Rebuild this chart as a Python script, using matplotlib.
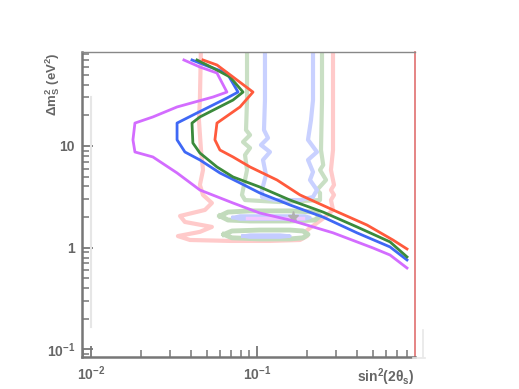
import matplotlib
matplotlib.use("Agg")
import matplotlib.pyplot as plt
from matplotlib.lines import Line2D
from matplotlib.ticker import LogLocator, NullFormatter

plt.rcParams['font.family'] = ['Liberation Sans', 'DejaVu Sans']
plt.rcParams['mathtext.fontset'] = 'custom'
plt.rcParams['mathtext.rm'] = 'Liberation Sans:bold'
plt.rcParams['mathtext.it'] = 'Liberation Sans:italic:bold'
plt.rcParams['mathtext.bf'] = 'Liberation Sans:bold'
plt.rcParams['mathtext.default'] = 'rm'

# ---- dark exclusion/allowed curves ----
purple_x = [0.0363, 0.0453, 0.0574, 0.0659, 0.0543, 0.0330, 0.0236, 0.0184, 0.0179, 0.0184,
            0.0236, 0.0330, 0.0453, 0.0717, 0.104, 0.158, 0.287, 0.500, 0.633, 0.801]
purple_y = [70.1, 59.8, 52.2, 33.9, 30.3, 24.2, 19.3, 16.8, 11.5, 8.73,
            7.80, 5.43, 3.69, 2.75, 2.19, 1.87, 1.40, 0.993, 0.847, 0.631]

blue_x = [0.0406, 0.0521, 0.0659, 0.0769, 0.0659, 0.0435, 0.0330, 0.0330, 0.0368, 0.0453,
          0.0598, 0.0790, 0.104, 0.158, 0.250, 0.400, 0.633, 0.801]
blue_y = [70.1, 59.8, 52.2, 33.9, 29.6, 21.1, 16.8, 11.5, 8.73, 7.29,
          5.43, 4.33, 3.45, 2.63, 2.00, 1.40, 1.017, 0.757]

green_x = [0.0435, 0.0543, 0.0688, 0.0824, 0.0717, 0.0453, 0.0406, 0.0411, 0.0453, 0.0574,
           0.0717, 0.104, 0.158, 0.250, 0.400, 0.633, 0.801]
green_y = [70.1, 58.5, 47.7, 33.9, 28.3, 19.3, 16.8, 10.7, 8.53, 6.22,
           4.96, 3.95, 2.94, 2.24, 1.60, 1.14, 0.811]

red_x = [0.0473, 0.0574, 0.0717, 0.0946, 0.0790, 0.0574, 0.0558, 0.0598, 0.0717, 0.0908,
         0.132, 0.1816, 0.287, 0.460, 0.659, 0.801]
red_y = [70.1, 62.6, 47.7, 33.9, 24.2, 16.8, 11.5, 9.13, 7.80, 6.22,
         4.63, 3.30, 2.35, 1.67, 1.19, 0.971]

# ---- faded contours ----
fred_x = [0.0460, 0.0453, 0.0447, 0.0460, 0.0473, 0.0453, 0.0473, 0.0535, 0.0486, 0.0344,
          0.0368, 0.0535, 0.0453, 0.0334, 0.0395, 0.0688, 0.1197, 0.1816, 0.2001, 0.1946,
          0.2086, 0.257, 0.287, 0.279, 0.291, 0.279, 0.291, 0.279, 0.287, 0.287, 0.287]
fred_y = [100, 28.3, 18.0, 9.13, 5.81, 4.14, 3.30, 2.75, 2.35, 2.05,
          1.79, 1.60, 1.43, 1.30, 1.19, 1.165, 1.165, 1.19, 1.30, 1.43,
          1.56, 2.00, 2.35, 2.94, 3.30, 3.69, 4.14, 5.81, 9.13, 28.3, 100]

fgreen_x = [0.0871, 0.0871, 0.0859, 0.0908, 0.0824, 0.0908, 0.0847, 0.0871, 0.0835, 0.0812,
            0.0847, 0.1376, 0.2397, 0.2397, 0.2297, 0.2606, 0.2397, 0.2505, 0.2430, 0.2464, 0.2464]
fgreen_y = [100, 28.3, 14.37, 12.83, 10.95, 9.56, 8.16, 5.81, 4.14, 3.30,
            2.94, 2.81, 2.94, 3.45, 3.69, 4.63, 5.81, 6.50, 9.13, 28.3, 100]

fblue_x = [0.1117, 0.1117, 0.1102, 0.1165, 0.1057, 0.1197, 0.1087, 0.1133, 0.1072, 0.1072,
           0.1283, 0.1816, 0.2175, 0.2297, 0.2086, 0.2175, 0.2029, 0.2297, 0.2029, 0.2115,
           0.2175, 0.2175]
fblue_y = [100, 28.3, 14.37, 11.99, 10.23, 8.73, 7.29, 5.19, 3.69, 3.15,
           2.94, 2.94, 3.15, 3.69, 4.63, 5.55, 7.29, 8.73, 11.5, 18.0,
           28.3, 100]

gloop1_x = [0.0598, 0.0669, 0.0908, 0.158, 0.2236, 0.2397, 0.2236, 0.158, 0.0908, 0.0669, 0.0598]
gloop1_y = [2.05, 2.24, 2.30, 2.30, 2.24, 2.05, 1.87, 1.83, 1.83, 1.87, 2.05]
gloop2_x = [0.0633, 0.0707, 0.104, 0.158, 0.1893, 0.2029, 0.1893, 0.158, 0.104, 0.0707, 0.0633]
gloop2_y = [1.349, 1.459, 1.49, 1.49, 1.459, 1.349, 1.25, 1.219, 1.219, 1.25, 1.349]
bloop1_x = [0.0717, 0.0790, 0.1197, 0.1946, 0.2086, 0.1946, 0.1197, 0.0790, 0.0717]
bloop1_y = [1.98, 2.05, 2.05, 2.05, 1.98, 1.91, 1.91, 1.91, 1.98]
bloop2_x = [0.0824, 0.0908, 0.1376, 0.158, 0.1376, 0.0908, 0.0824]
bloop2_y = [1.30, 1.33, 1.33, 1.30, 1.27, 1.27, 1.30]
mband_x = [0.0871, 0.1893]
mband_y = [1.96, 1.96]

star_x = [0.1648]
star_y = [2.0]

guide_x = [0.01, 0.01]
guide_y = [30.0, 0.166]

x_ticks = [0.01, 0.1]
x_ticklabels = ['10$^{-2}$', '10$^{-1}$']
y_ticks = [0.1, 1, 10]
y_ticklabels = ['10$^{-1}$', '1', '10']

fig = plt.figure(figsize=(5.19, 3.89), dpi=100)
ax = fig.add_axes([82/519, 32/389, 333/519, 305/389])
ax.set_xscale('log')
ax.set_yscale('log')
ax.set_xlim(0.00883, 0.895)
ax.set_ylim(0.0841, 84.0)

fl = dict(lw=3.0, solid_capstyle='round', solid_joinstyle='round')
ax.plot(guide_x, guide_y, color='#e6e6e6', lw=1.5)
ax.plot(fred_x, fred_y, color='#ffcaca', **fl)
ax.plot(fgreen_x, fgreen_y, color='#c9dfc4', **fl)
ax.plot(fblue_x, fblue_y, color='#c9d1ff', **fl)
ax.plot(gloop1_x, gloop1_y, color='#c2dbbc', lw=3.5)
ax.plot(gloop2_x, gloop2_y, color='#c2dbbc', lw=3.5)
ax.plot(bloop1_x, bloop1_y, color='#c4ccff', lw=2.5)
ax.plot(bloop2_x, bloop2_y, color='#c4ccff', lw=2.5)
ax.plot(mband_x, mband_y, color='#f2c8ff', lw=2.5)
ax.plot(star_x, star_y, marker='*', color='#b0b0b0', ms=8, ls='none')

dl = dict(lw=2.0, solid_joinstyle='round')
ax.plot(purple_x, purple_y, color='#d36cff', **dl)
ax.plot(blue_x, blue_y, color='#3f68f5', **dl)
ax.plot(green_x, green_y, color='#3b8a3b', **dl)
ax.plot(red_x, red_y, color='#ff5a3c', **dl)

for s in ['left', 'bottom']:
    ax.spines[s].set_color('#777777')
    ax.spines[s].set_linewidth(1.8)
ax.spines['top'].set_color('#888888')
ax.spines['top'].set_linewidth(1.0)
ax.spines['right'].set_color('#e07070')
ax.spines['right'].set_linewidth(1.2)

ax.set_xticks(x_ticks)
ax.set_xticklabels(x_ticklabels)
ax.set_yticks(y_ticks)
ax.set_yticklabels(y_ticklabels)
ax.xaxis.set_minor_locator(LogLocator(base=10, subs=range(2, 10)))
ax.yaxis.set_minor_locator(LogLocator(base=10, subs=range(2, 10)))
ax.xaxis.set_minor_formatter(NullFormatter())
ax.yaxis.set_minor_formatter(NullFormatter())
ax.tick_params(which='major', direction='in', length=8, width=1.3, color='#777777',
               labelsize=10, labelcolor='#666666', pad=5, top=False, right=False)
ax.tick_params(which='minor', direction='in', length=5, width=1.1, color='#777777',
               top=False, right=False)
for lab in ax.get_xticklabels() + ax.get_yticklabels():
    lab.set_fontweight('bold')

fig.text(53/519, 1 - 52/389, r'$\Delta$m$^{2}_{S}$ (eV$^{2}$)', rotation=90,
         ha='center', va='top', fontsize=9.5, color='#666666', fontweight='bold')
fig.text(415/519, 1.5/389, r'sin$^{2}$(2$\theta_{s}$)', ha='right', va='bottom',
         fontsize=10, color='#666666', fontweight='bold')

fig.add_artist(Line2D([423/519, 423/519], [1 - 357/389, 1 - 330/389], color='#e8e8e8', lw=1.2))
fig.add_artist(Line2D([413/519, 425/519], [1 - 358/389, 1 - 358/389], color='#e8e8e8', lw=1.2))

fig.savefig('out.png', dpi=100)
